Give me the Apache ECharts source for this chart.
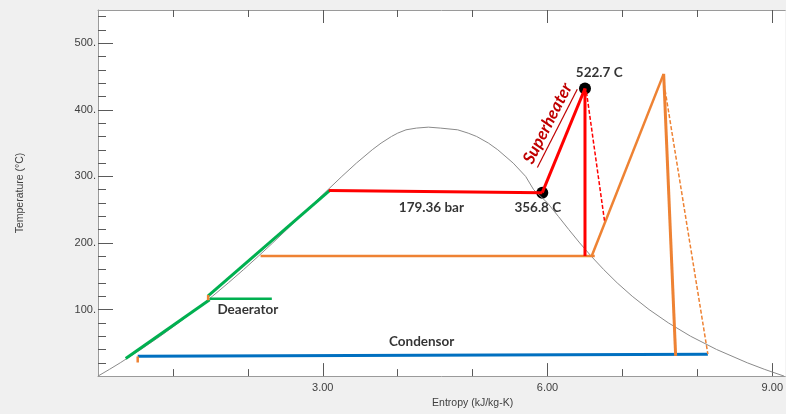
<!DOCTYPE html>
<html>
<head>
<meta charset="utf-8">
<script src="https://cdn.jsdelivr.net/npm/echarts@6/dist/echarts.min.js"></script>
<style>
html,body{margin:0;padding:0;background:#f0f0f0;overflow:hidden;}
#chart{width:786px;height:414px;}
</style>
</head>
<body>
<div id="chart"></div>
<script>
// ---- data (entropy kJ/kg-K, temperature °C) ----
const satLiquid = [[0,0.01],[0.151,10],[0.297,20],[0.572,40],[0.831,60],[1.076,80],[1.307,100],[1.528,120],[1.739,140],[1.943,160],[2.139,180],[2.331,200],[2.518,220],[2.702,240],[2.885,260],[3.069,280],[3.255,300],[3.449,320],[3.660,340],[3.778,350],[3.917,360],[4.000,365],[4.111,370],[4.25,372.6],[4.41,374]];
const satVapor = [[4.41,374],[4.57,372.6],[4.801,370],[4.941,365],[5.054,360],[5.212,350],[5.336,340],[5.542,320],[5.708,300],[5.815,280],[6.001,260],[6.144,240],[6.285,220],[6.430,200],[6.584,180],[6.750,160],[6.930,140],[7.130,120],[7.355,100],[7.612,80],[7.908,60],[8.256,40],[8.666,20],[8.900,10],[9.156,0.01]];
const pumpLowLine = [[0.37,26.4],[1.49,114.7]];
const pumpHighLine = [[1.47,120.6],[3.09,278.5]];
const deaeratorLine = [[1.49,116.2],[2.32,116.2]];
const pumpTick1 = [[0.53,20.5],[0.53,29.5]];
const pumpTick2 = [[1.47,114],[1.47,122]];
const evaporatorLine = [[3.08,279],[5.93,275.6]];
const superheaterLine = [[5.93,275.6],[6.50,432]];
const hpTurbineIdeal = [[6.50,432],[6.50,180.5]];
const hpTurbineReal = [[6.52,426.7],[6.76,233.6]];
const reheatFeedLine = [[2.17,180.5],[6.63,180.5]];
const reheaterLine = [[6.59,180.5],[7.55,454]];
const lpTurbineIdeal = [[7.55,454],[7.71,30.4]];
const lpTurbineReal = [[7.57,429],[8.14,33]];
const condenserLine = [[0.53,29.8],[8.14,33]];
const statePoints = [[5.93,275.6],[6.50,432]];
const annotText = ['179.36 bar','356.8 C','522.7 C','Deaerator','Condensor'];
const annotS = [4.45,5.87,6.69,2.0,4.32];
const annotT = [253.3,253.3,456.5,99.8,51.3];
const superheaterText = 'Superheater';
const superheaterAt = [6.0,379.6];
const xMajorTicks = [3,6,9];
const xMinorTicks = [1,2,4,5,7,8];
const yMajorTicks = [100,200,300,400,500];
const yMinorTicks = [20,40,60,80,120,140,160,180,220,240,260,280,320,340,360,380,420,440,460,480,520,540];

const GREEN='#00b050', RED='#ff0000', ORANGE='#ee8233', BLUE='#0070c0';
const tickColor='#5a5a5a', axisColor='#9a9a9a', labelColor='#404040';
const X_MAX = 9.173;

function lineSeries(data, color, width, dashed){
  return {type:'line', data:data, showSymbol:false, symbol:'none', animation:false, silent:true,
    lineStyle:{color:color, width:width, type: dashed ? [4,2] : 'solid'}};
}
function xAx(pos, ticks, len, labels, line){
  return {type:'value', min:0, max:X_MAX, position:pos,
    axisLine:{show:!!line, onZero:false, lineStyle:{color:axisColor, width:1}},
    splitLine:{show:false},
    axisTick:{show:true, inside:true, length:len, customValues:ticks, lineStyle:{color:tickColor}},
    axisLabel:labels ? {show:true, customValues:ticks, formatter:v=>Number(v).toFixed(2), color:labelColor, fontSize:11, fontFamily:'Liberation Sans', margin:6} : {show:false}};
}
function yAx(ticks, len, labels, line){
  return {type:'value', min:0, max:550, position:'left',
    axisLine:{show:!!line, onZero:false, lineStyle:{color:axisColor, width:1}},
    splitLine:{show:false},
    axisTick:{show:true, inside:true, length:len, customValues:ticks, lineStyle:{color:tickColor}},
    axisLabel:labels ? {show:true, customValues:ticks, formatter:v=>v+'.', color:labelColor, fontSize:11, fontFamily:'Liberation Sans', margin:2} : {show:false}};
}

const chart = echarts.init(document.getElementById('chart'), null, {renderer:'canvas', width:786, height:414});
const xMain = xAx('bottom', xMajorTicks, 13, true, true);
xMain.name = 'Entropy (kJ/kg-K)';
xMain.nameLocation = 'middle';
xMain.nameGap = 17;
xMain.nameTextStyle = {color:labelColor, fontSize:10.5, fontFamily:'Liberation Sans', padding:[0,0,0,62]};
const yMain = yAx(yMajorTicks, 15, true, true);
yMain.name = 'Temperature (°C)';
yMain.nameLocation = 'middle';
yMain.nameGap = 72;
yMain.nameTextStyle = {color:labelColor, fontSize:10.5, fontFamily:'Liberation Sans'};

const option = {
  backgroundColor:'#f0f0f0',
  animation:false,
  grid:{left:98, top:10, bottom:34, right:0, show:true, backgroundColor:'#ffffff', borderWidth:0},
  xAxis:[xMain, xAx('bottom', xMinorTicks, 7, false, false), xAx('top', xMajorTicks, 13, false, true), xAx('top', xMinorTicks, 7, false, false)],
  yAxis:[yMain, yAx(yMinorTicks, 8, false, false)],
  series:[
    lineSeries(satLiquid.concat(satVapor), '#8a8a8a', 1, false),
    lineSeries(condenserLine, BLUE, 3, false),
    lineSeries(pumpLowLine, GREEN, 3, false),
    lineSeries(pumpHighLine, GREEN, 3, false),
    lineSeries(deaeratorLine, GREEN, 2.5, false),
    lineSeries(pumpTick1, ORANGE, 2.5, false),
    lineSeries(pumpTick2, ORANGE, 2.5, false),
    lineSeries(reheatFeedLine, ORANGE, 2.5, false),
    lineSeries(reheaterLine, ORANGE, 2.5, false),
    lineSeries(lpTurbineIdeal, ORANGE, 3, false),
    lineSeries(lpTurbineReal, ORANGE, 1.5, true),
    lineSeries(evaporatorLine, RED, 3, false),
    lineSeries(superheaterLine, RED, 3, false),
    lineSeries(hpTurbineIdeal, RED, 3, false),
    lineSeries(hpTurbineReal, RED, 1.5, true),
    {type:'scatter', data:statePoints, symbolSize:12, itemStyle:{color:'#000', opacity:1}, silent:true, animation:false},
    {type:'scatter', silent:true, animation:false, symbolSize:1, itemStyle:{color:'rgba(0,0,0,0)'},
      data: annotText.map((t,i)=>({value:[annotS[i], annotT[i]], name:t})),
      label:{show:true, position:'inside', formatter:p=>p.name, color:'#000', fontSize:13.5, fontWeight:'bold', fontFamily:'Lato'}}
  ]
};
chart.setOption(option);

// rotated, underlined "Superheater" annotation anchored at a data coordinate
const anchor = chart.convertToPixel({xAxisIndex:0, yAxisIndex:0}, superheaterAt);
const fontSpec = 'italic bold 17px Lato';
const ctx = document.createElement('canvas').getContext('2d');
ctx.font = fontSpec;
const tw = ctx.measureText(superheaterText).width;
chart.setOption({graphic:[{
  type:'group', x:anchor[0], y:anchor[1], rotation:63*Math.PI/180, silent:true,
  children:[
    {type:'text', x:0, y:0, style:{text:superheaterText, font:fontSpec, fill:'#c00000', align:'center', verticalAlign:'middle'}},
    {type:'line', shape:{x1:-tw/2, y1:11, x2:tw/2, y2:11}, style:{stroke:'#c00000', lineWidth:1.2}}
  ]
}]});
</script>
</body>
</html>
